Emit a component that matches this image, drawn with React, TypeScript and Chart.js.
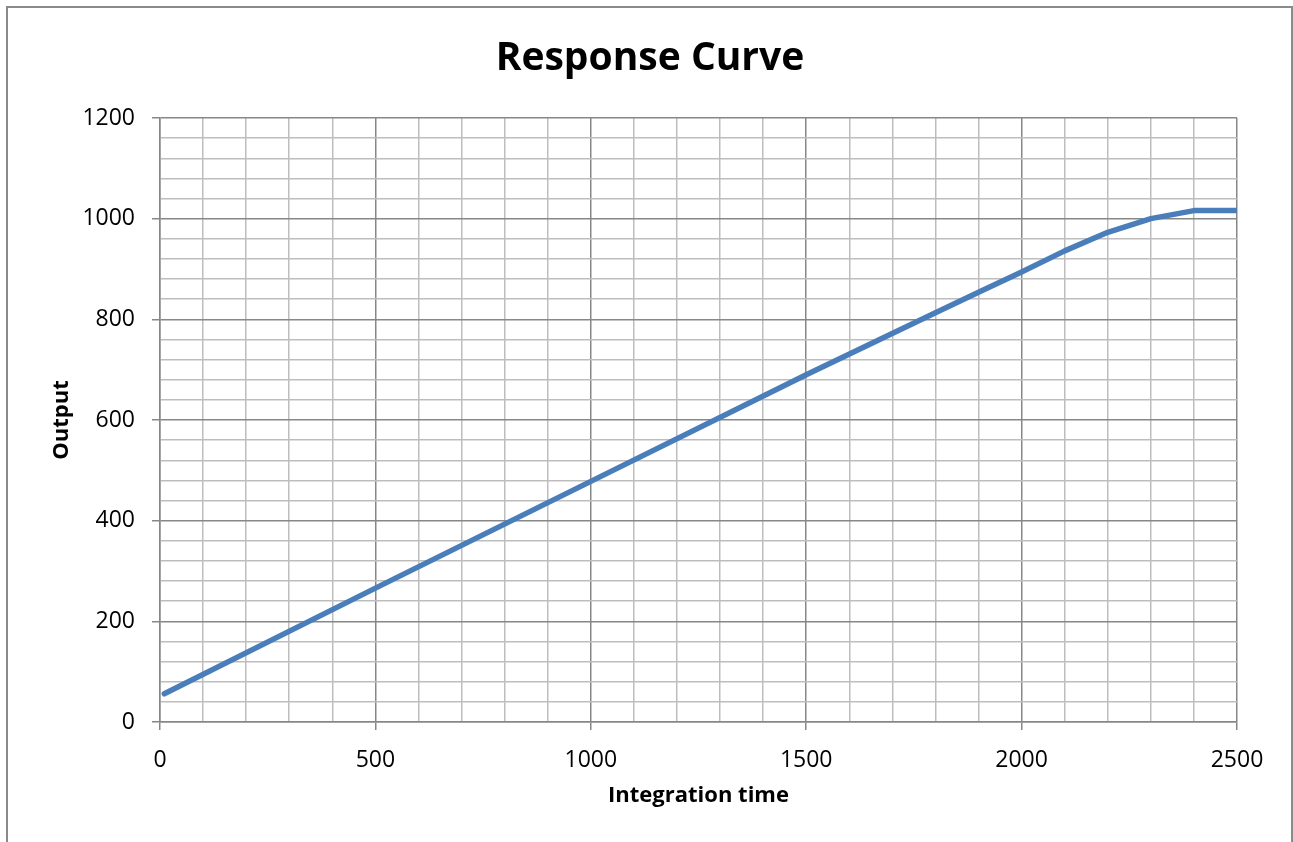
import React, { useEffect, useRef } from "react";
import { Chart, registerables } from "chart.js";

Chart.register(...registerables);

const integrationTimes = [10, 500, 1000, 1500, 1800, 1900, 2000, 2100, 2200, 2300, 2400, 2500];
const outputValues = [56, 266, 478, 690, 813, 854, 894, 936, 973, 1000, 1016, 1016];

const chartTitle = "Response Curve";
const xAxisTitle = "Integration time";
const yAxisTitle = "Output";

const X_MIN = 0;
const X_MAX = 2500;
const X_MINOR_STEP = 100;
const X_MAJOR_STEP = 500;
const Y_MIN = 0;
const Y_MAX = 1200;
const Y_MINOR_STEP = 40;
const Y_MAJOR_STEP = 200;

const FONT = "'Open Sans', 'DejaVu Sans', sans-serif";
const MAJOR_GRID = "#878787";
const MINOR_GRID = "#bdbdbd";

const frameAndTitle = {
  id: "frameAndTitle",
  beforeDraw(chart: any) {
    const ctx = chart.ctx;
    ctx.save();
    ctx.fillStyle = "#ffffff";
    ctx.fillRect(0, 0, chart.width, chart.height);
    ctx.strokeStyle = "#8a8a8a";
    ctx.lineWidth = 2;
    ctx.strokeRect(7, 7, 1285, 1000);
    ctx.restore();
  },
  afterDraw(chart: any) {
    const ctx = chart.ctx;
    ctx.save();
    ctx.fillStyle = "#000";
    ctx.font = `bold 39px ${FONT}`;
    ctx.textAlign = "center";
    ctx.textBaseline = "alphabetic";
    ctx.fillText(chartTitle, 650, 70);
    ctx.restore();
  },
};

export default function App() {
  const canvasRef = useRef<HTMLCanvasElement | null>(null);

  useEffect(() => {
    if (!canvasRef.current) return;
    const points = integrationTimes.map((x, i) => ({ x, y: outputValues[i] }));
    const isMajor = (v: number, step: number) => Math.abs(v % step) < 1e-6;

    const chart = new Chart(canvasRef.current, {
      type: "scatter",
      data: {
        datasets: [
          {
            label: "Output",
            data: points,
            showLine: true,
            borderColor: "#4a7ebb",
            backgroundColor: "#4a7ebb",
            borderWidth: 5.5,
            borderCapStyle: "round",
            borderJoinStyle: "round",
            pointRadius: 0,
            pointHoverRadius: 0,
            tension: 0,
          },
        ],
      },
      options: {
        responsive: false,
        animation: false,
        layout: { padding: { top: 118, left: 0, right: 56, bottom: 0 } },
        plugins: {
          legend: { display: false },
          tooltip: { enabled: false },
          title: { display: false },
        },
        scales: {
          x: {
            type: "linear",
            min: X_MIN,
            max: X_MAX,
            afterFit: (scale: any) => {
              scale.height = 120;
            },
            ticks: {
              stepSize: X_MINOR_STEP,
              autoSkip: false,
              maxRotation: 0,
              minRotation: 0,
              padding: 17,
              color: "#000",
              font: { family: FONT, size: 23 },
              callback: (v: any) => (isMajor(Number(v), X_MAJOR_STEP) ? String(v) : ""),
            },
            grid: {
              lineWidth: 1.5,
              tickLength: 8,
              color: (c: any) => (c.tick && isMajor(c.tick.value, X_MAJOR_STEP) ? MAJOR_GRID : MINOR_GRID),
              tickColor: (c: any) => (c.tick && isMajor(c.tick.value, X_MAJOR_STEP) ? MAJOR_GRID : "rgba(0,0,0,0)"),
            },
            border: { color: MAJOR_GRID, width: 1.5 },
            title: {
              display: true,
              text: xAxisTitle,
              color: "#000",
              font: { family: FONT, size: 22, weight: "bold", lineHeight: 1.2 },
              padding: { top: 0, bottom: 33 },
            },
          },
          y: {
            type: "linear",
            min: Y_MIN,
            max: Y_MAX,
            afterFit: (scale: any) => {
              scale.width = 160;
            },
            ticks: {
              stepSize: Y_MINOR_STEP,
              autoSkip: false,
              padding: 17,
              color: "#000",
              font: { family: FONT, size: 23 },
              callback: (v: any) => (isMajor(Number(v), Y_MAJOR_STEP) ? String(v) : ""),
            },
            grid: {
              lineWidth: 1.5,
              tickLength: 8,
              color: (c: any) => (c.tick && isMajor(c.tick.value, Y_MAJOR_STEP) ? MAJOR_GRID : MINOR_GRID),
              tickColor: (c: any) => (c.tick && isMajor(c.tick.value, Y_MAJOR_STEP) ? MAJOR_GRID : "rgba(0,0,0,0)"),
            },
            border: { color: MAJOR_GRID, width: 1.5 },
            title: {
              display: true,
              text: yAxisTitle,
              color: "#000",
              font: { family: FONT, size: 22, weight: "bold", lineHeight: 1.2 },
              padding: { top: 49, bottom: 0 },
            },
          },
        },
      },
      plugins: [frameAndTitle],
    } as any);

    return () => {
      chart.destroy();
    };
  }, []);

  return (
    <div style={{ position: "absolute", left: 0, top: 0, width: 1293, height: 842, background: "#fff" }}>
      <canvas ref={canvasRef} width={1293} height={842} style={{ display: "block" }} />
    </div>
  );
}
